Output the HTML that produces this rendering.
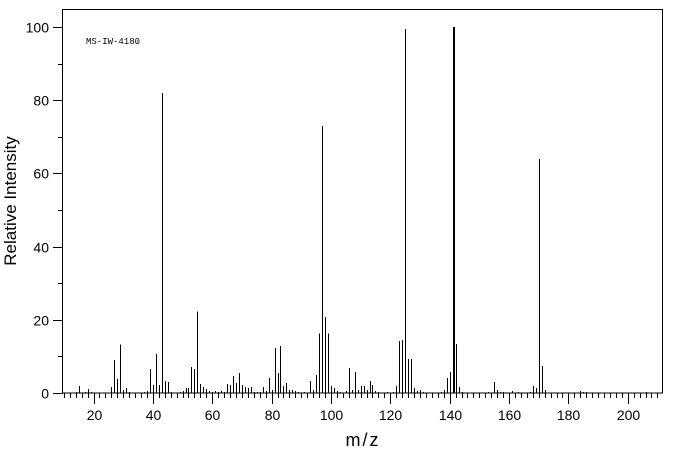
<!DOCTYPE html>
<html><head><meta charset="utf-8"><style>
html,body{margin:0;padding:0;background:#fff;width:676px;height:455px;overflow:hidden}
svg{display:block}
text{font-family:"Liberation Sans",sans-serif;fill:#000}
</style></head><body>
<svg id="s" width="676" height="455" xmlns="http://www.w3.org/2000/svg" shape-rendering="crispEdges">
<rect x="62.5" y="9.5" width="600" height="383.5" fill="none" stroke="#000" stroke-width="1"/>
<g id="ticks" stroke="#000" stroke-width="1"></g>
<g id="peaks" stroke="#000" stroke-width="1"></g>
<g id="labels" font-size="14"></g>
<text x="86" y="44" font-size="9" style="font-family:'Liberation Mono',monospace">MS-IW-4180</text>
<text x="363" y="446" font-size="18" text-anchor="middle" letter-spacing="2">m/z</text>
<text transform="translate(16,201) rotate(-90)" font-size="17" text-anchor="middle">Relative Intensity</text>
</svg>
<script>
var ns="http://www.w3.org/2000/svg";
function X(m){return Math.round(93.5+(m-20)*2.968)+0.5;}
function Y(v){return 393-3.66*v;}
function line(g,x1,y1,x2,y2){var l=document.createElementNS(ns,"line");l.setAttribute("x1",x1);l.setAttribute("y1",y1);l.setAttribute("x2",x2);l.setAttribute("y2",y2);document.getElementById(g).appendChild(l);}
function txt(x,y,s,a){var t=document.createElementNS(ns,"text");t.setAttribute("x",x);t.setAttribute("y",y);t.setAttribute("text-anchor",a);t.textContent=s;document.getElementById("labels").appendChild(t);}
for(var m=10;m<=210;m+=2){var x=X(m);line("ticks",x,393,x,(m%20==0)?404:398);if(m%20==0&&m>=20)txt(x,420,String(m),"middle");}
for(var v=0;v<=100;v+=10){var y=Math.round(Y(v))+0.5;line("ticks",v%20==0?53:58,y,62.5,y);if(v%20==0)txt(49,y+5,String(v),"end");}
var P=[[14,.3],[15,1.9],[17,.3],[18,1.1],[19,.3],[26,1.6],[27,9],[28,3.8],[29,13.2],[30,.8],[31,1.4],[32,.3],[37,.3],[38,.5],[39,6.6],[40,2.2],[41,10.7],[42,2.2],[43,82],[44,3.3],[45,3],[46,.3],[49,.3],[50,.5],[51,1.4],[52,1.4],[53,7.1],[54,6.6],[55,22.2],[56,2.5],[57,1.6],[58,1.1],[59,.5],[60,.3],[61,.5],[62,.3],[63,.5],[64,.3],[65,2.5],[66,2.2],[67,4.7],[68,2.7],[69,5.5],[70,2.2],[71,1.6],[72,1.4],[73,1.6],[74,.3],[75,.3],[76,.3],[77,1.6],[78,.5],[79,4.1],[80,.8],[81,12.3],[82,5.5],[83,12.9],[84,1.9],[85,2.7],[86,.8],[87,.8],[88,.5],[89,.3],[91,.3],[93,3.3],[94,.8],[95,4.9],[96,16.2],[97,73],[98,20.8],[99,16.2],[100,1.9],[101,1.4],[102,.5],[103,.3],[105,.5],[106,6.8],[107,.8],[108,5.8],[109,.8],[110,1.9],[111,1.9],[112,.8],[113,3.3],[114,2.2],[115,.5],[116,.3],[119,.3],[121,.3],[122,1.9],[123,14.2],[124,14.5],[125,99.5],[126,9.3],[127,9.3],[128,1.4],[129,.5],[130,.8],[131,.3],[137,.3],[138,.8],[139,4.1],[140,5.8],[141,100],[142,13.4],[143,1.6],[144,.3],[153,.3],[155,3],[156,.8],[157,.3],[158,.3],[161,.5],[163,.3],[167,.3],[168,1.9],[169,1.4],[170,64],[171,7.4],[172,.8],[184,.5],[185,.3],[186,.3],[206,.3]];
P.forEach(function(p){var x=X(p[0]);line("peaks",x,393,x,Y(p[1]));if(p[0]==141)line("peaks",x+1,393,x+1,Y(p[1]));});
</script>
</body></html>
